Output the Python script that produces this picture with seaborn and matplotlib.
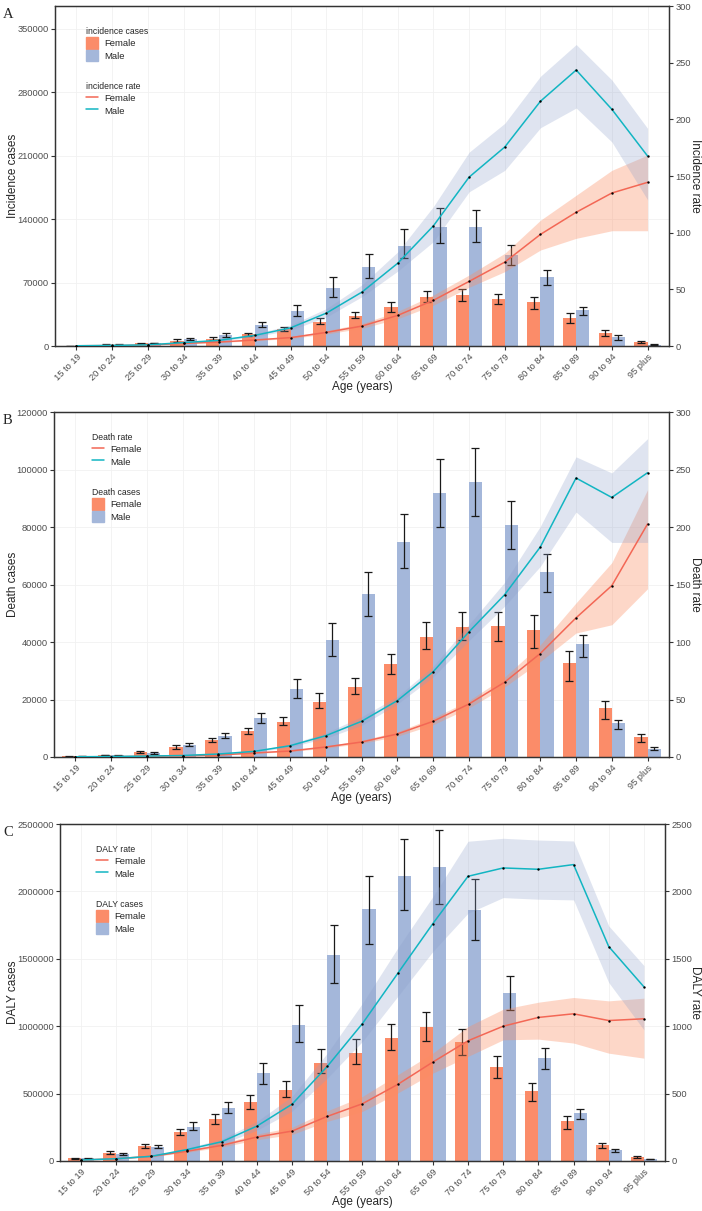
import numpy as np
import pandas as pd
import seaborn as sns
import matplotlib.pyplot as plt
from matplotlib.patches import Patch
from matplotlib.lines import Line2D
from matplotlib.ticker import FuncFormatter

#%% Dados

ages = ['15 to 19', '20 to 24', '25 to 29', '30 to 34', '35 to 39', '40 to 44',
        '45 to 49', '50 to 54', '55 to 59', '60 to 64', '65 to 69', '70 to 74',
        '75 to 79', '80 to 84', '85 to 89', '90 to 94', '95 plus']

# A - incidence
inc_cases_f = [300, 1470, 2900, 5900, 8100, 12900, 18750, 26800, 33100, 43000, 54000,
               55900, 51500, 48200, 31250, 14700, 4400]
inc_cases_f_lo = [200, 1200, 2400, 4400, 6600, 11400, 16500, 23900, 30500, 37800, 48200,
                  50000, 46000, 40400, 25000, 11400, 3000]
inc_cases_f_hi = [400, 1750, 3400, 7400, 10300, 14700, 20600, 30500, 37800, 48200, 61000,
                  62900, 57400, 54000, 36000, 17300, 5900]
inc_cases_m = [300, 1500, 3300, 8100, 12130, 23500, 38250, 64300, 87500, 110600, 131250,
               131250, 100000, 75770, 39370, 9560, 1470]
inc_cases_m_lo = [200, 1200, 2800, 6600, 10300, 21000, 32700, 54000, 74700, 96700, 114000,
                  114400, 89000, 66900, 33800, 7000, 1200]
inc_cases_m_hi = [400, 1800, 3800, 9200, 14300, 26500, 45200, 76000, 101500, 128700, 152000,
                  150000, 111700, 83500, 43400, 11800, 1800]
inc_rate_f = [0.2, 0.4, 0.8, 2.3, 3.5, 5.3, 7.4, 12, 17.6, 27, 40.3, 57, 74, 98.5, 118, 135, 144.4]
inc_rate_f_lo = [0.1, 0.3, 0.7, 2.0, 3.1, 4.7, 6.6, 10.6, 15.6, 24, 36, 51.8, 65.6, 84.7, 95, 101.7, 101.7]
inc_rate_f_hi = [0.3, 0.5, 1.0, 2.6, 4.0, 6.0, 8.3, 13.5, 19.8, 30.5, 45, 62.6, 81.8, 111, 133, 155, 168.5]
inc_rate_m = [0.2, 0.5, 1.0, 3.0, 5.0, 9.4, 16, 29, 47.6, 73, 106, 149, 175.6, 216, 243.5, 208.8, 167.6]
inc_rate_m_lo = [0.1, 0.4, 0.8, 2.5, 4.3, 8.2, 14, 25.5, 43.5, 66, 92, 136, 155, 192.6, 210, 180, 129]
inc_rate_m_hi = [0.3, 0.6, 1.2, 3.5, 5.8, 10.8, 18.5, 33, 54, 83, 123, 171, 196.5, 238, 266, 234.7, 192]

# B - death
dth_cases_f = [200, 700, 1600, 3580, 5900, 9040, 12280, 19230, 24350, 32350, 41840,
               45320, 45440, 44280, 32800, 17040, 6960]
dth_cases_f_lo = [150, 550, 1300, 2900, 5100, 8100, 11000, 17100, 21800, 29000, 37600,
                  40700, 40300, 37800, 26500, 13300, 5100]
dth_cases_f_hi = [250, 850, 2100, 4200, 6600, 10200, 13900, 22100, 27500, 36000, 47000,
                  50600, 50600, 49300, 36900, 19500, 8100]
dth_cases_m = [250, 600, 1500, 4280, 7400, 13560, 23760, 40560, 56700, 74900, 91830,
               95650, 80700, 64200, 39300, 11830, 2900]
dth_cases_m_lo = [200, 500, 1200, 3700, 6500, 12000, 20600, 35000, 48900, 65800, 79900,
                  84000, 72200, 57400, 34800, 9800, 2300]
dth_cases_m_hi = [300, 750, 1800, 4900, 8200, 15400, 27100, 46500, 64200, 84500, 103800,
                  107600, 88900, 70500, 42400, 13000, 3500]
dth_rate_f = [0.1, 0.3, 0.6, 1.0, 1.7, 3.5, 5.2, 8.7, 13, 20, 31, 46, 65, 90, 121, 149, 202.6]
dth_rate_f_lo = [0.08, 0.25, 0.5, 0.9, 1.5, 3.1, 4.6, 7.8, 11.7, 18, 28, 42.6, 60.8, 83, 107.8, 115, 146.3]
dth_rate_f_hi = [0.12, 0.35, 0.7, 1.1, 1.9, 3.9, 5.8, 9.7, 14.5, 22, 34, 49, 69.5, 97.6, 134, 169, 232.4]
dth_rate_m = [0.2, 0.4, 0.8, 1.3, 2.6, 4.9, 9.8, 18.5, 31, 49, 74, 108.7, 141, 182.6, 242.6, 225.7, 247.2]
dth_rate_m_lo = [0.15, 0.3, 0.6, 1.1, 2.2, 4.2, 8.6, 16.3, 27.5, 46, 69.5, 101, 131, 165.7, 213, 186.6, 186.6]
dth_rate_m_hi = [0.25, 0.5, 1.0, 1.5, 3.0, 5.6, 11.2, 21, 35, 52.5, 78.8, 115, 151.8, 200.5, 261, 247, 276.8]

# C - DALY
daly_cases_f = [19760, 61760, 113600, 212450, 313700, 434800, 528650, 728750, 800400,
                911560, 990600, 881900, 699100, 521200, 294000, 116100, 29600]
daly_cases_f_lo = [15000, 51900, 98800, 190200, 276700, 385400, 474300, 649700, 719000,
                   822600, 889000, 788000, 617600, 444700, 239600, 93900, 22200]
daly_cases_f_hi = [24000, 71600, 128500, 239600, 348300, 486700, 592900, 830000, 904000,
                   1020000, 1104000, 980700, 775700, 578000, 331000, 133400, 39500]
daly_cases_m = [19760, 54300, 106200, 254450, 395260, 649700, 1010400, 1529000, 1867600,
                2117000, 2178850, 1860200, 1245000, 760900, 355700, 84000, 14800]
daly_cases_m_lo = [15000, 46900, 96300, 232200, 355700, 573100, 881900, 1319000, 1613000,
                   1865000, 1905000, 1643000, 1116600, 679300, 311300, 69200, 12000]
daly_cases_m_hi = [24000, 61800, 118600, 286600, 437300, 726300, 1153700, 1752000, 2112000,
                   2389000, 2458000, 2090000, 1371000, 837400, 383000, 91400, 17000]
daly_rate_f = [7, 17, 35, 72, 116, 178, 222, 331, 425, 568, 734, 892, 1000, 1065, 1092, 1042, 1055]
daly_rate_f_lo = [6, 15, 31, 64, 103, 158, 197, 294, 368, 504, 652, 776, 899, 904, 875, 800, 763]
daly_rate_f_hi = [8, 19.5, 39.5, 81, 130, 200, 250, 372, 479, 640, 800, 998, 1126, 1178, 1213, 1188, 1208]
daly_rate_m = [7.4, 17, 35, 84, 143, 259, 422, 702, 1020, 1391, 1761, 2112, 2174, 2164, 2199, 1591, 1292]
daly_rate_m_lo = [6.3, 14.5, 30, 73, 125, 228, 370, 615, 887, 1220, 1554, 1838, 1954, 1942, 1937, 1324, 973]
daly_rate_m_hi = [8.6, 19.8, 40, 96, 163, 294, 480, 800, 1171, 1579, 1961, 2372, 2394, 2381, 2374, 1744, 1450]

#%% Estilo

sns.set_theme(style='white')
plt.rcParams['font.family'] = ['Liberation Sans', 'DejaVu Sans']

cor_bar = {'Female': '#FB8C69', 'Male': '#A4B7DA'}
cor_linha = {'Female': '#F36755', 'Male': '#12B5C2'}
cor_faixa = {'Female': ('#FC8D62', 0.35), 'Male': ('#8DA0CB', 0.28)}

W, H = 702, 1211
fig = plt.figure(figsize=(W / 100, H / 100), dpi=100)


def px_axes(left, top, right, bottom):
    return fig.add_axes([left / W, 1 - bottom / H, (right - left) / W, (bottom - top) / H])


def painel(box, letra, casos, casos_lo, casos_hi, taxa, taxa_lo, taxa_hi,
           ylim_left, step_left, ylim_right, step_right, nome_casos, nome_taxa,
           leg_casos, leg_taxa, casos_primeiro, leg_xy):
    left, top, right, bottom = box
    ax = px_axes(left, top, right, bottom)

    df = pd.DataFrame({'age': ages * 2,
                       'sex': ['Female'] * len(ages) + ['Male'] * len(ages),
                       'value': casos[0] + casos[1]})
    sns.barplot(data=df, x='age', y='value', hue='sex', hue_order=['Female', 'Male'],
                palette=cor_bar, width=0.74, saturation=1, errorbar=None,
                legend=False, linewidth=0, ax=ax, zorder=2)

    # barras de erro nas posições das barras desenhadas
    for cont, lo, hi, v in zip(ax.containers, casos_lo, casos_hi, casos):
        xs = [r.get_x() + r.get_width() / 2 for r in cont]
        v = np.array(v)
        ax.errorbar(xs, v, yerr=[v - np.array(lo), np.array(hi) - v], fmt='none',
                    ecolor='#1a1a1a', elinewidth=0.9, capsize=3.0, capthick=0.9, zorder=3)

    ax.set_ylim(0, ylim_left)
    ax.set_yticks(np.arange(0, ylim_left + 1, step_left))
    ax.yaxis.set_major_formatter(FuncFormatter(lambda v, p: '%d' % v))
    ax.set_xlim(-0.6, len(ages) - 0.4)
    ax.set_xticks(range(len(ages)))
    ax.set_xticklabels(ages, rotation=45, ha='right', va='top', rotation_mode='anchor')
    ax.grid(True, color='#F1F1F1', lw=0.6)
    ax.set_axisbelow(True)

    ax2 = ax.twinx()
    xpos = np.arange(len(ages))
    for sexo, t, lo, hi in zip(['Female', 'Male'], taxa, taxa_lo, taxa_hi):
        c, a = cor_faixa[sexo]
        ax2.fill_between(xpos, lo, hi, color=c, alpha=a, lw=0, zorder=1)
    for sexo, t in zip(['Female', 'Male'], taxa):
        sns.lineplot(x=xpos, y=t, color=cor_linha[sexo], lw=1.1, ax=ax2, zorder=3)
        ax2.scatter(xpos, t, s=3, color='black', zorder=4, lw=0)
    ax2.set_ylim(0, ylim_right)
    ax2.set_yticks(np.arange(0, ylim_right + 1, step_right))
    ax2.set_xlim(-0.6, len(ages) - 0.4)

    for a in (ax, ax2):
        for s in a.spines.values():
            s.set_color('#333333')
            s.set_linewidth(0.9)
            s.set_visible(True)
        a.tick_params(direction='out', length=3, width=0.8, color='#333333',
                      labelsize=6.7, labelcolor='#4D4D4D', pad=1.5)
    ax.tick_params(axis='both', left=True, bottom=True)
    ax2.tick_params(axis='y', right=True)

    wpx, hpx = right - left, bottom - top
    ax.set_xlabel('Age (years)', fontsize=8.5, va='center')
    ax.xaxis.set_label_coords(0.5, -41 / hpx)
    ax.set_ylabel(nome_casos, fontsize=8.5, va='center')
    ax.yaxis.set_label_coords((12.7 - left) / wpx, 0.5)
    ax2.set_ylabel(nome_taxa, fontsize=8.5, rotation=270, va='center', ha='center')
    ax2.yaxis.set_label_coords((695 - left) / wpx, 0.5)

    fig.text(3 / W, 1 - (top + 8) / H, letra, family=['Liberation Serif', 'DejaVu Serif'],
             fontsize=10.5, va='center', ha='left')

    # legendas (duas caixas separadas, como no original)
    h_casos = [Patch(color=cor_bar['Female'], label='Female'),
               Patch(color=cor_bar['Male'], label='Male')]
    h_taxa = [Line2D([], [], color=cor_linha['Female'], lw=1.1, label='Female'),
              Line2D([], [], color=cor_linha['Male'], lw=1.1, label='Male')]
    grupos = [(h_casos, leg_casos), (h_taxa, leg_taxa)]
    if not casos_primeiro:
        grupos = grupos[::-1]
    lx, ly = leg_xy
    for i, (hs, titulo) in enumerate(grupos):
        fig.legend(handles=hs, title=titulo, loc='upper left',
                   bbox_to_anchor=(lx / W, 1 - (ly + i * 55) / H),
                   bbox_transform=fig.transFigure, frameon=False,
                   fontsize=6.8, title_fontsize=6.2, alignment='left',
                   handlelength=1.3, handleheight=1.45, handletextpad=0.6,
                   labelspacing=0.15, borderpad=0, borderaxespad=0)


painel((55, 6, 669, 346), 'A',
       [inc_cases_f, inc_cases_m], [inc_cases_f_lo, inc_cases_m_lo], [inc_cases_f_hi, inc_cases_m_hi],
       [inc_rate_f, inc_rate_m], [inc_rate_f_lo, inc_rate_m_lo], [inc_rate_f_hi, inc_rate_m_hi],
       375000, 70000, 300, 50, 'Incidence cases', 'Incidence rate',
       'incidence cases', 'incidence rate', True, (86, 27))

painel((54, 412, 669, 757), 'B',
       [dth_cases_f, dth_cases_m], [dth_cases_f_lo, dth_cases_m_lo], [dth_cases_f_hi, dth_cases_m_hi],
       [dth_rate_f, dth_rate_m], [dth_rate_f_lo, dth_rate_m_lo], [dth_rate_f_hi, dth_rate_m_hi],
       120000, 20000, 300, 50, 'Death cases', 'Death rate',
       'Death cases', 'Death rate', False, (92, 433))

painel((60, 824, 665, 1161), 'C',
       [daly_cases_f, daly_cases_m], [daly_cases_f_lo, daly_cases_m_lo], [daly_cases_f_hi, daly_cases_m_hi],
       [daly_rate_f, daly_rate_m], [daly_rate_f_lo, daly_rate_m_lo], [daly_rate_f_hi, daly_rate_m_hi],
       2500000, 500000, 2500, 500, 'DALY cases', 'DALY rate',
       'DALY cases', 'DALY rate', False, (96, 845))

fig.savefig('out.png', dpi=100)
